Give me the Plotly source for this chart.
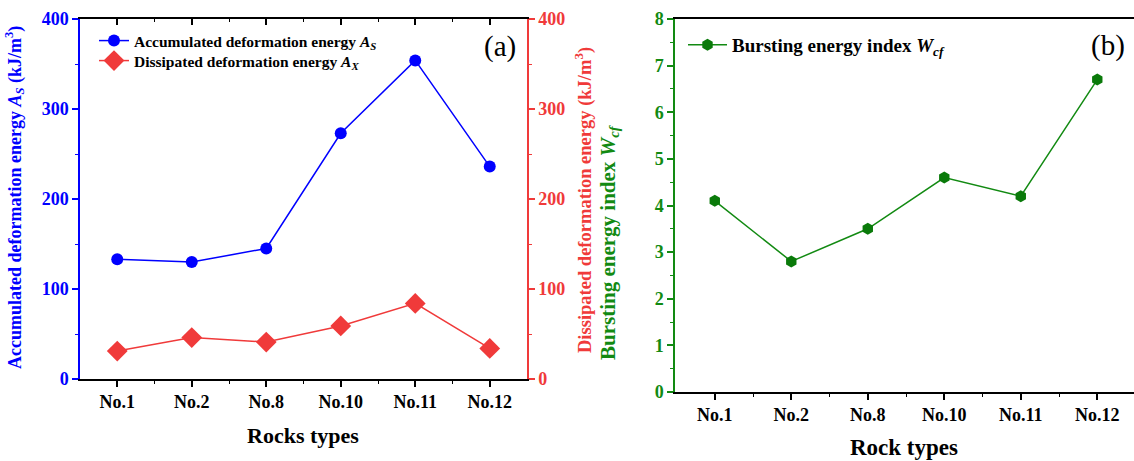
import plotly.graph_objects as go

# ---------------- data ----------------
rocks = ["No.1", "No.2", "No.8", "No.10", "No.11", "No.12"]
accumulated_AS = [133, 130, 145, 273, 354, 236]
dissipated_AX = [31, 46, 41, 59, 84, 34]
bursting_Wcf = [4.1, 2.8, 3.5, 4.6, 4.2, 6.7]
left_y_ticks = [0, 100, 200, 300, 400]
right_y_ticks = [0, 1, 2, 3, 4, 5, 6, 7, 8]

W, H = 1134, 461
BLUE = "#0000FF"
RED = "#F03A3A"
GREEN = "#128A12"
FONT = "Liberation Serif"

xpos = list(range(len(rocks)))


def px(x):
    return x / W


def py(y):
    return 1 - y / H


fig = go.Figure()

fig.add_trace(go.Scatter(
    x=xpos, y=accumulated_AS, mode="lines+markers",
    name="<b>Accumulated deformation energy <i>A<sub>S</sub></i></b>",
    line=dict(color=BLUE, width=1.5),
    marker=dict(symbol="circle", size=12, color=BLUE),
    xaxis="x", yaxis="y", legend="legend"))

fig.add_trace(go.Scatter(
    x=xpos, y=dissipated_AX, mode="lines+markers",
    name="<b>Dissipated deformation energy <i>A<sub>X</sub></i></b>",
    line=dict(color=RED, width=1.5),
    marker=dict(symbol="diamond", size=16, color=RED),
    xaxis="x3", yaxis="y2", legend="legend3"))

fig.add_trace(go.Scatter(
    x=xpos, y=bursting_Wcf, mode="lines+markers",
    name="<b>Bursting energy index <i>W<sub>cf</sub></i></b>",
    line=dict(color=GREEN, width=1.5),
    marker=dict(symbol="hexagon", size=12, color="#0A7A0A"),
    xaxis="x2", yaxis="y3", legend="legend2"))

tickfont_black = dict(family=FONT, size=18, color="black", weight="bold")

left_dom = [px(80), px(527)]
left_ydom = [py(379), py(19)]
right_dom = [px(675), 1.0]
right_ydom = [py(392), py(19)]

common_x = dict(
    tickmode="array", tickvals=xpos, ticktext=rocks,
    showgrid=False, zeroline=False, showline=True, linecolor="black", linewidth=1.5,
    ticks="outside", ticklen=6, tickwidth=1.5, tickcolor="black",
    tickfont=tickfont_black,
    minor=dict(tickmode="array", tickvals=[i + 0.5 for i in xpos[:-1]],
               ticks="outside", ticklen=3, tickwidth=1.2, tickcolor="black"),
)

legend_common = dict(xanchor="left", yanchor="top", bgcolor="rgba(0,0,0,0)")

fig.update_layout(
    width=W, height=H,
    margin=dict(l=0, r=0, t=0, b=0, autoexpand=False),
    paper_bgcolor="white", plot_bgcolor="white",
    font=dict(family=FONT),
    xaxis=dict(domain=left_dom, anchor="y", range=[-0.5, 5.5], **common_x),
    xaxis3=dict(overlaying="x", side="top", anchor="y2", range=[-0.5, 5.5],
                tickmode="array", tickvals=xpos, showticklabels=False,
                showgrid=False, zeroline=False, showline=True, linecolor="black",
                linewidth=1.5, ticks="inside", ticklen=6, tickwidth=1.5, tickcolor="black",
                minor=dict(tickmode="array", tickvals=[i + 0.5 for i in xpos[:-1]],
                           ticks="inside", ticklen=3, tickwidth=1.2, tickcolor="black")),
    yaxis=dict(domain=left_ydom, anchor="x", range=[0, 400],
               tickmode="array", tickvals=left_y_ticks,
               showgrid=False, zeroline=False, showline=True, linecolor=BLUE, linewidth=1.5,
               ticks="outside", ticklen=6, tickwidth=1.5, tickcolor=BLUE,
               tickfont=dict(family=FONT, size=18, color=BLUE, weight="bold"),
               minor=dict(dtick=50, tick0=0, ticks="outside", ticklen=3, tickwidth=1.2,
                          tickcolor=BLUE)),
    yaxis2=dict(overlaying="y", side="right", anchor="x", range=[0, 400],
                tickmode="array", tickvals=left_y_ticks,
                showgrid=False, zeroline=False, showline=True, linecolor=RED, linewidth=1.5,
                ticks="outside", ticklen=6, tickwidth=1.5, tickcolor=RED,
                tickfont=dict(family=FONT, size=18, color=RED, weight="bold"),
                minor=dict(dtick=50, tick0=0, ticks="outside", ticklen=3, tickwidth=1.2,
                           tickcolor=RED)),
    xaxis2=dict(domain=right_dom, anchor="y3", range=[-0.52, 5.48], mirror=True,
                **common_x),
    yaxis3=dict(domain=right_ydom, anchor="x2", range=[0, 8],
                tickmode="array", tickvals=right_y_ticks,
                showgrid=False, zeroline=False, showline=True, linecolor=GREEN, linewidth=1.5,
                ticks="outside", ticklen=6, tickwidth=1.5, tickcolor=GREEN,
                tickfont=dict(family=FONT, size=18, color=GREEN, weight="bold"),
                minor=dict(dtick=0.5, tick0=0, ticks="outside", ticklen=3, tickwidth=1.2,
                           tickcolor=GREEN)),
    legend=dict(x=px(94), y=py(24), font=dict(family=FONT, size=15.5, color="black"),
                itemwidth=30, **legend_common),
    legend3=dict(x=px(94), y=py(44), font=dict(family=FONT, size=15.5, color="black"),
                 itemwidth=30, **legend_common),
    legend2=dict(x=px(683), y=py(26), font=dict(family=FONT, size=19, color="black"),
                 itemwidth=39, **legend_common),
    showlegend=True,
)

annotations = [
    dict(text="<b>Accumulated deformation energy <i>A<sub>S</sub></i> (kJ/m<sup>3</sup>)</b>",
         x=px(15), y=py(198), textangle=-90, font=dict(size=18, color=BLUE, family=FONT)),
    dict(text="<b>Dissipated deformation energy (kJ/m<sup>3</sup>)</b>",
         x=px(583), y=py(200), textangle=-90, font=dict(size=18.5, color=RED, family=FONT)),
    dict(text="<b>Bursting energy index <i>W<sub>cf</sub></i></b>",
         x=px(609), y=py(242), textangle=-90, font=dict(size=21, color=GREEN, family=FONT)),
    dict(text="<b>Rocks types</b>", x=px(303), y=py(435),
         font=dict(size=22, color="black", family=FONT)),
    dict(text="<b>Rock types</b>", x=px(904), y=py(447),
         font=dict(size=23, color="black", family=FONT)),
    dict(text="(a)", x=px(500), y=py(46), font=dict(size=29, color="black", family=FONT)),
    dict(text="(b)", x=px(1108), y=py(45), font=dict(size=29, color="black", family=FONT)),
]
for a in annotations:
    a.update(xref="paper", yref="paper", showarrow=False, xanchor="center", yanchor="middle")
fig.update_layout(annotations=annotations)

fig.write_html("out.html")
